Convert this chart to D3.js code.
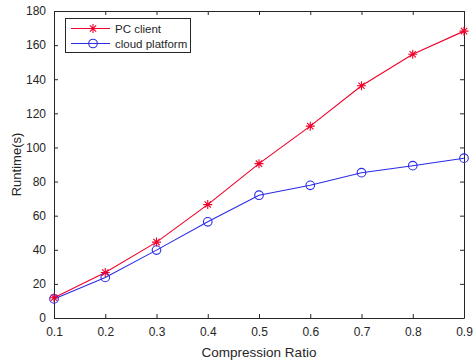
<!DOCTYPE html>
<html><head><meta charset="utf-8">
<script src="https://cdn.jsdelivr.net/npm/d3@7"></script>
<style>body{margin:0;background:#fff}svg{display:block}text{font-family:"Liberation Sans",Arial,sans-serif}</style>
</head><body><svg id="c" width="473" height="362"></svg>
<script>
const ratios = [0.1,0.2,0.3,0.4,0.5,0.6,0.7,0.8,0.9];
const pcClient = [11.9,26.7,44.5,66.5,90.5,112.5,136.2,154.6,168.2];
const cloudPlatform = [11.2,23.8,39.8,56.4,72.0,77.8,85.2,89.3,93.7];
const xTicks = [0.1,0.2,0.3,0.4,0.5,0.6,0.7,0.8,0.9];
const yTicks = [0,20,40,60,80,100,120,140,160,180];
const seriesNames = ["PC client","cloud platform"];

const svg = d3.select("#c");
const L=54,R=464,T=11,B=318;
const x = d3.scaleLinear().domain([0.1,0.9]).range([L,R]);
const y = d3.scaleLinear().domain([0,180]).range([B,T]);
const txt="#262626", axc="#262626";

svg.append("rect").attr("x",L).attr("y",T).attr("width",R-L).attr("height",B-T).attr("fill","#fff");

const gx = svg.append("g").attr("transform",`translate(0,${B})`)
  .call(d3.axisBottom(x).tickValues(xTicks).tickFormat(d3.format(".1f")).tickSizeInner(-4).tickSizeOuter(0).tickPadding(9));
const gxt = svg.append("g").attr("transform",`translate(0,${T})`)
  .call(d3.axisTop(x).tickValues(xTicks).tickSizeInner(-4).tickSizeOuter(0).tickFormat(""));
const gy = svg.append("g").attr("transform",`translate(${L},0)`)
  .call(d3.axisLeft(y).tickValues(yTicks).tickSizeInner(-4).tickSizeOuter(0).tickPadding(8));
const gyr = svg.append("g").attr("transform",`translate(${R},0)`)
  .call(d3.axisRight(y).tickValues(yTicks).tickSizeInner(-4).tickSizeOuter(0).tickFormat(""));
[gx,gxt,gy,gyr].forEach(g=>{
  g.selectAll("path.domain").attr("stroke",axc).attr("stroke-width",1);
  g.selectAll("line").attr("stroke",axc);
  g.selectAll("text").attr("fill",txt).style("font-size","12px").style("font-family","Liberation Sans, Arial, sans-serif");
});

svg.append("text").attr("x",259).attr("y",357).attr("text-anchor","middle")
  .attr("fill",txt).style("font-size","13.5px").text("Compression Ratio");
svg.append("text").attr("transform",`translate(21,${(T+B)/2}) rotate(-90)`).attr("text-anchor","middle")
  .attr("fill",txt).style("font-size","13px").text("Runtime(s)");

const red="#f0002a", blue="#2a2ae8";
const line = d3.line().x(d=>x(d[0])).y(d=>y(d[1]));
const pcData = ratios.map((r,i)=>[r,pcClient[i]]);
const cpData = ratios.map((r,i)=>[r,cloudPlatform[i]]);

function star(g,cx,cy,s,col){
  const a=s, b=s*0.7;
  g.append("path").attr("d",`M${cx-a},${cy}L${cx+a},${cy}M${cx},${cy-a}L${cx},${cy+a}M${cx-b},${cy-b}L${cx+b},${cy+b}M${cx-b},${cy+b}L${cx+b},${cy-b}`)
   .attr("stroke",col).attr("stroke-width",1.1).attr("fill","none");
}

svg.append("path").datum(cpData).attr("d",line).attr("fill","none").attr("stroke",blue).attr("stroke-width",1.1);
svg.append("path").datum(pcData).attr("d",line).attr("fill","none").attr("stroke",red).attr("stroke-width",1.1);
const gm = svg.append("g");
cpData.forEach(d=>gm.append("circle").attr("cx",x(d[0])).attr("cy",y(d[1])).attr("r",4.3).attr("fill","none").attr("stroke",blue).attr("stroke-width",1.1));
pcData.forEach(d=>star(gm,x(d[0]),y(d[1]),4.5,red));

// legend
const lg = svg.append("g");
lg.append("rect").attr("x",65.5).attr("y",18.5).attr("width",125).attr("height",34).attr("fill","#fff").attr("stroke",axc).attr("stroke-width",1);
const rows=[{n:seriesNames[0],c:red,m:"star"},{n:seriesNames[1],c:blue,m:"circle"}];
rows.forEach((r,i)=>{
  const yy=28.5+i*15;
  lg.append("line").attr("x1",71).attr("x2",110).attr("y1",yy).attr("y2",yy).attr("stroke",r.c).attr("stroke-width",1.1);
  if(r.m==="star") star(lg,93,yy,4.5,r.c);
  else lg.append("circle").attr("cx",93).attr("cy",yy).attr("r",4.3).attr("fill","none").attr("stroke",r.c).attr("stroke-width",1.1);
  lg.append("text").attr("x",115).attr("y",yy+4).attr("fill",txt).style("font-size","11.5px").text(r.n);
});
</script></body></html>
